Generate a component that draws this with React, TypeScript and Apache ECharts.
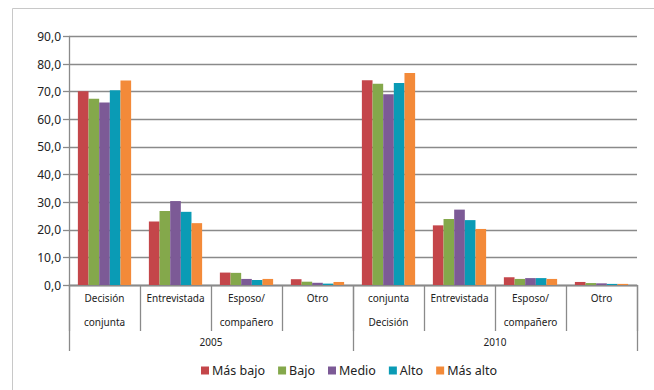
import React, { useEffect, useRef } from "react";
import * as echarts from "echarts";

// Decision-making categories, grouped by survey year
const categories = [
  "Decisión\nconjunta",
  "Entrevistada",
  "Esposo/\ncompañero",
  "Otro",
  "conjunta\nDecisión",
  "Entrevistada",
  "Esposo/\ncompañero",
  "Otro",
];
const years = ["2005", "2010"];

// Wealth quintile series (%)
const seriesNames = ["Más bajo", "Bajo", "Medio", "Alto", "Más alto"];
const masBajo = [70.2, 23.0, 4.5, 2.1, 74.2, 21.6, 2.8, 1.1];
const bajo = [67.5, 26.8, 4.4, 1.2, 72.9, 23.9, 2.2, 0.7];
const medio = [66.1, 30.4, 2.2, 0.8, 69.1, 27.3, 2.5, 0.6];
const alto = [70.5, 26.5, 1.8, 0.5, 73.2, 23.5, 2.5, 0.4];
const masAlto = [74.1, 22.4, 2.2, 1.1, 76.8, 20.3, 2.2, 0.4];

const yTicks = { min: 0, max: 90, interval: 10 };

const colors = ["#C4464A", "#84A84B", "#7C5A96", "#0A9BB5", "#F38A39"];
const FONT = "Noto Sans";
const AXIS_GRAY = "#8A8A8A";

export default function App() {
  const ref = useRef<HTMLDivElement>(null);

  useEffect(() => {
    if (!ref.current) return;
    const chart = echarts.init(ref.current, undefined, { renderer: "svg" });
    const values = [masBajo, bajo, medio, alto, masAlto];

    chart.setOption({
      animation: false,
      textStyle: { fontFamily: FONT },
      graphic: [
        {
          type: "rect",
          shape: { x: 12.5, y: 8.5, width: 720, height: 420 },
          style: { fill: "none", stroke: "#C8C8C8", lineWidth: 1 },
          silent: true,
        },
      ],
      grid: { left: 69, right: 17, top: 36.5, bottom: 105 },
      legend: {
        data: seriesNames,
        left: 196,
        top: 359,
        icon: "rect",
        itemWidth: 8,
        itemHeight: 8,
        itemGap: 13,
        textStyle: { fontFamily: FONT, fontSize: 12.5, color: "#222", padding: [0, 0, 0, -2] },
      },
      xAxis: [
        {
          type: "category",
          data: categories,
          position: "bottom",
          axisLine: { lineStyle: { color: AXIS_GRAY, width: 1.3 } },
          axisTick: {
            show: true,
            interval: 0,
            length: 46,
            lineStyle: { color: AXIS_GRAY, width: 1.3 },
          },
          axisLabel: {
            interval: 0,
            margin: 1,
            fontSize: 10,
            lineHeight: 24,
            color: "#222",
            fontFamily: FONT,
          },
        },
        {
          type: "category",
          data: years,
          position: "bottom",
          axisLine: { lineStyle: { color: AXIS_GRAY, width: 1.3 } },
          axisTick: {
            show: true,
            interval: 0,
            length: 66,
            lineStyle: { color: AXIS_GRAY, width: 1.3 },
          },
          axisLabel: {
            interval: 0,
            margin: 51,
            fontSize: 10,
            lineHeight: 12,
            color: "#222",
            fontFamily: FONT,
          },
        },
      ],
      yAxis: {
        type: "value",
        min: yTicks.min,
        max: yTicks.max,
        interval: yTicks.interval,
        axisLine: { show: true, lineStyle: { color: AXIS_GRAY, width: 1.3 } },
        axisTick: { show: true, length: 6, lineStyle: { color: AXIS_GRAY, width: 1.3 } },
        splitLine: { lineStyle: { color: AXIS_GRAY, width: 1.3 } },
        axisLabel: {
          margin: 8,
          fontSize: 12,
          color: "#222",
          fontFamily: FONT,
          formatter: (v: number) => v.toFixed(1).replace(".", ","),
        },
      },
      series: seriesNames.map((name, i) => ({
        name,
        type: "bar",
        xAxisIndex: 0,
        data: values[i],
        barGap: "0%",
        barCategoryGap: "25%",
        itemStyle: { color: colors[i] },
      })),
    });

    return () => chart.dispose();
  }, []);

  return (
    <div
      ref={ref}
      style={{ position: "fixed", left: 0, top: 0, width: 654, height: 390, background: "#fff" }}
    />
  );
}
